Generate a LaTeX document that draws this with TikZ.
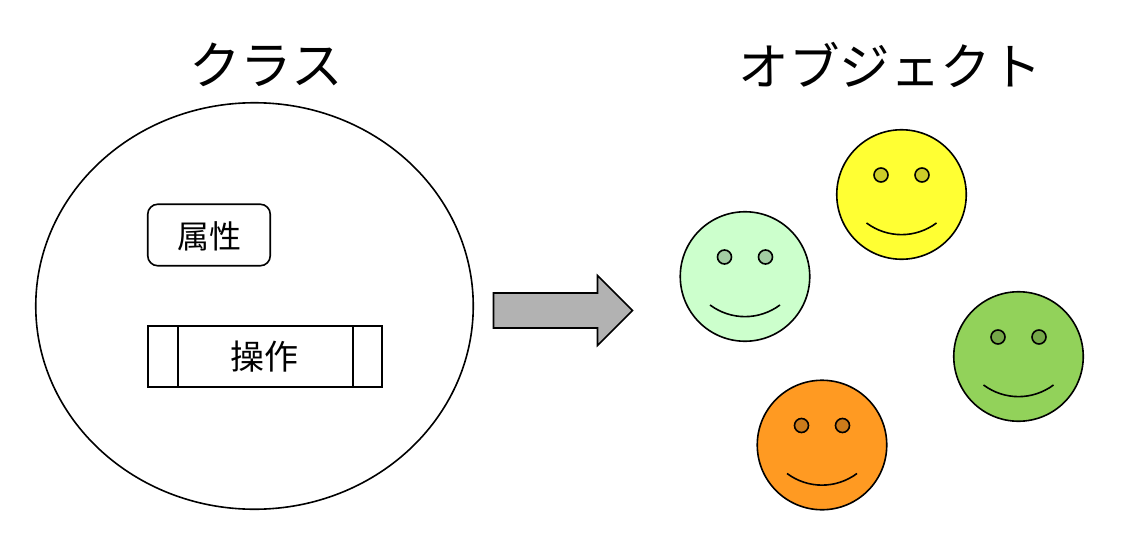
\documentclass[tikz,border=0pt]{standalone}
\usepackage{fontspec}
\setmainfont{Noto Sans CJK JP}
\usetikzlibrary{shapes.geometric}
\definecolor{mintc}{HTML}{CCFFCC}
\definecolor{yelc}{HTML}{FFFF33}
\definecolor{grnc}{HTML}{92D25A}
\definecolor{orgc}{HTML}{FF9A22}
\tikzset{
  x=1pt,y=-1pt,
  lw/.style={line width=1.6pt},
  outl/.style={draw=black,lw,inner sep=0pt,outer sep=0pt},
  titletext/.style={font=\fontsize{51.5}{52}\selectfont,inner sep=0pt,anchor=center},
  labeltext/.style={font=\fontsize{32}{32}\selectfont,inner sep=0pt,anchor=center},
  head/.style={outl,circle,minimum size=129.5pt},
  eye/.style={outl,circle,minimum size=14pt},
}
\newcommand{\smiley}[4]{%
  \node[head,fill=#2] (#1) at (#3,#4) {};
  \node[eye,fill=#2!80!black] (#1l) at ([xshift=-20.5pt,yshift=19.5pt]#1.center) {};
  \node[eye,fill=#2!80!black] (#1r) at ([xshift=20.5pt,yshift=19.5pt]#1.center) {};
  \coordinate (#1a) at ([xshift=-35pt,yshift=-28.5pt]#1.center);
  \coordinate (#1b) at ([xshift=35pt,yshift=-28.5pt]#1.center);
  \draw[lw] (#1a) .. controls ([xshift=-14pt,yshift=-44pt]#1.center) and ([xshift=14pt,yshift=-44pt]#1.center) .. (#1b);
}
\begin{document}
\begin{tikzpicture}
\useasboundingbox (0,0) rectangle (1135,554);
\node[titletext] (t1) at (266,64.5) {クラス};
\node[titletext,font=\fontsize{50.5}{52}\selectfont] (t2) at (890,64.5) {オブジェクト};
\node[outl,ellipse,minimum width=437.5pt,minimum height=406.5pt] (cls) at (254.5,306) {};
\node[outl,rectangle,rounded corners=10pt,minimum width=122.5pt,minimum height=61.5pt] (attr) at (209,235) {};
\node[labeltext] (attrt) at (209,236) {属性};
\node[outl,rectangle,minimum width=234pt,minimum height=61pt] (op) at (265,356.5) {};
\draw[lw] ([xshift=29.7pt]op.north west) -- ([xshift=29.7pt]op.south west);
\draw[lw] ([xshift=-29.3pt]op.north east) -- ([xshift=-29.3pt]op.south east);
\node[labeltext,font=\fontsize{34}{34}\selectfont] (opt) at (264,357) {操作};
\filldraw[lw,draw=black,fill=black!30] (493.5,293) -- (597.5,293) -- (597.5,275.5) -- (632.5,310.5) -- (597.5,345.5) -- (597.5,328) -- (493.5,328) -- cycle;
\smiley{fy}{yelc}{901.5}{194.5}
\smiley{fm}{mintc}{745}{276.5}
\smiley{fg}{grnc}{1018.5}{356.5}
\smiley{fo}{orgc}{822}{445}
\end{tikzpicture}
\end{document}
